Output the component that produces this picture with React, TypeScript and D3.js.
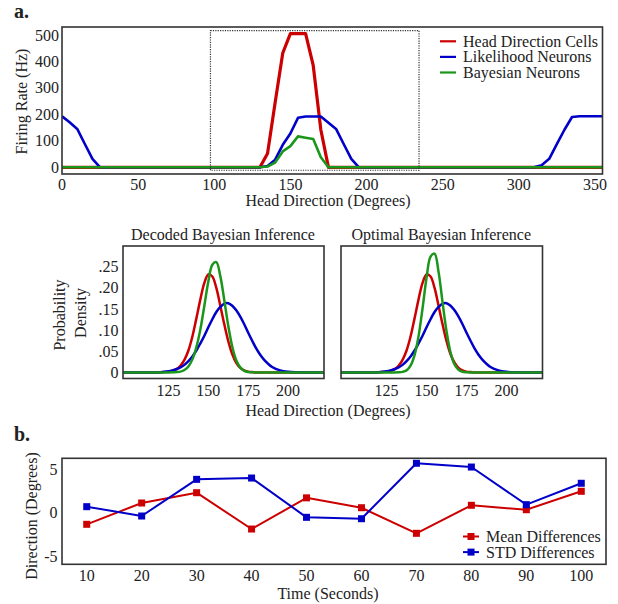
import React from "react";
import * as d3 from "d3";

// ---------- Panel a (top): firing rates vs head direction ----------
const topXTicks = [0, 50, 100, 150, 200, 250, 300, 350];
const topYTicks = [0, 100, 200, 300, 400, 500];

const hdCellsRate: [number, number][] = [
  [0, 0], [130, 0], [135, 52], [140, 245], [145, 432], [150, 505], [155, 505],
  [160, 505], [165, 385], [170, 142], [175, 0], [355, 0],
];
const likelihoodRate: [number, number][] = [
  [0, 193], [5, 170], [10, 145], [15, 88], [20, 32], [25, 0], [130, 0], [135, 5],
  [140, 29], [145, 85], [150, 128], [155, 187], [160, 192], [165, 192], [170, 192],
  [175, 168], [180, 145], [185, 88], [190, 32], [195, 0], [310, 0], [315, 8],
  [320, 32], [325, 88], [330, 142], [335, 190], [340, 193], [345, 193], [350, 193], [355, 193],
];
const bayesianRate: [number, number][] = [
  [0, 0], [130, 0], [135, 3], [140, 18], [145, 60], [150, 80], [155, 117],
  [160, 112], [165, 107], [170, 38], [175, 0], [355, 0],
];
const topLegend = ["Head Direction Cells", "Likelihood Neurons", "Bayesian Neurons"];

// ---------- Panel a (middle): probability densities ----------
const densityAngles = [
  95, 100, 105, 110, 115, 120, 122.5, 125, 127.5, 130, 132.5, 135, 137.5, 140, 142.5,
  145, 147.5, 150, 152.5, 155, 157.5, 160, 162.5, 165, 167.5, 170, 172.5, 175, 177.5,
  180, 182.5, 185, 190, 195, 200, 205, 210, 215, 220, 225,
];
const hdDensity = [
  0, 0, 0, 0, 0, 0.0005, 0.001, 0.002, 0.004, 0.008, 0.016, 0.03, 0.052, 0.085, 0.128,
  0.173, 0.212, 0.232, 0.227, 0.2, 0.158, 0.114, 0.074, 0.043, 0.023, 0.011, 0.005, 0.002, 0.001,
  0, 0, 0, 0, 0, 0, 0, 0, 0, 0, 0,
];
const likelihoodDensity = [
  0, 0, 0, 0, 0.0002, 0.0008, 0.0015, 0.0027, 0.0047, 0.0076, 0.012, 0.018, 0.027, 0.038, 0.052,
  0.069, 0.087, 0.107, 0.126, 0.143, 0.155, 0.163, 0.164, 0.158, 0.147, 0.132, 0.114, 0.094, 0.075,
  0.057, 0.042, 0.03, 0.013, 0.005, 0.0017, 0.0005, 0.0001, 0, 0, 0,
];
const decodedPosterior = [
  0, 0, 0, 0, 0, 0, 0, 0, 0.0003, 0.001, 0.002, 0.006, 0.014, 0.031, 0.06,
  0.102, 0.158, 0.215, 0.255, 0.261, 0.228, 0.171, 0.11, 0.061, 0.029, 0.012, 0.004, 0.0012, 0.0003,
  0, 0, 0, 0, 0, 0, 0, 0, 0, 0, 0,
];
const optimalPosterior = [
  0, 0, 0, 0, 0, 0, 0, 0, 0, 0, 0.0004, 0.0015, 0.005, 0.016, 0.041,
  0.086, 0.152, 0.224, 0.274, 0.281, 0.238, 0.166, 0.097, 0.047, 0.019, 0.0064, 0.0018, 0.0004, 0,
  0, 0, 0, 0, 0, 0, 0, 0, 0, 0, 0,
];
const densityXTicks = [125, 150, 175, 200];
const densityYTicks = [0, 0.05, 0.1, 0.15, 0.2, 0.25];
const densityYLabels = ["0", ".05", ".10", ".15", ".20", ".25"];

// ---------- Panel b: differences over time ----------
const timeSeconds = [10, 20, 30, 40, 50, 60, 70, 80, 90, 100];
const meanDifferences = [-1.33, 1.11, 2.29, -1.87, 1.7, 0.57, -2.36, 0.85, 0.34, 2.45];
const stdDifferences = [0.69, -0.38, 3.82, 3.97, -0.53, -0.69, 5.66, 5.23, 0.92, 3.37];
const bYTicks = [-5, 0, 5];
const bLegend = ["Mean Differences", "STD Differences"];

// ---------- styling ----------
const RED = "#cc0000";
const BLUE = "#0000c8";
const GREEN = "#1a961a";
const FRAME = "#333";
const TEXT = "#222";
const FONT = "'Liberation Serif', 'Times New Roman', serif";

export default function App() {
  // Top panel scales
  const tx = d3.scaleLinear().domain([0, 355]).range([62, 602.5]);
  const ty = d3.scaleLinear().domain([-25.25, 530.25]).range([174, 27]);
  const topLine = d3
    .line<[number, number]>()
    .x((d) => tx(d[0]))
    .y((d) => ty(d[1]));

  // Middle panels
  const panels = [
    { left: 123, right: 324, title: "Decoded Bayesian Inference", post: decodedPosterior, yLabels: true, id: "clipL" },
    { left: 341, right: 542.5, title: "Optimal Bayesian Inference", post: optimalPosterior, yLabels: false, id: "clipR" },
  ];
  const mTop = 246;
  const mBottom = 378.5;
  const my = d3.scaleLinear().domain([-0.01425, 0.29925]).range([mBottom, mTop]);

  // Bottom panel
  const bx = d3.scaleLinear().domain([5.5, 104.5]).range([62, 606]);
  const by = d3.scaleLinear().domain([-5.91, 6.23]).range([564.3, 458.3]);
  const bLine = d3
    .line<number>()
    .x((_, i) => bx(timeSeconds[i]))
    .y((d) => by(d));

  // Dotted region marking the zoomed range
  const zoomBox = { x0: 97.5, x1: 234.5, y0: -11, y1: 516.5 };

  return (
    <svg
      width={618}
      height={604}
      style={{ position: "absolute", left: 0, top: 0, background: "#fff" }}
      fontFamily={FONT}
      fill={TEXT}
    >
      <defs>
        <clipPath id="clipTop">
          <rect x={62} y={27} width={540.5} height={147} />
        </clipPath>
        {panels.map((p) => (
          <clipPath id={p.id} key={p.id}>
            <rect x={p.left} y={mTop} width={p.right - p.left} height={mBottom - mTop} />
          </clipPath>
        ))}
      </defs>

      {/* ---------------- a. ---------------- */}
      <text x={14} y={17.5} fontSize={20} fontWeight="bold">a.</text>

      <g clipPath="url(#clipTop)" fill="none" strokeLinejoin="round">
        <path d={topLine(hdCellsRate) || ""} stroke={RED} strokeWidth={3.2} />
        <path d={topLine(likelihoodRate) || ""} stroke={BLUE} strokeWidth={2.6} />
        <path d={topLine(bayesianRate) || ""} stroke={GREEN} strokeWidth={2.6} />
      </g>
      <rect
        x={tx(zoomBox.x0)}
        y={ty(zoomBox.y1)}
        width={tx(zoomBox.x1) - tx(zoomBox.x0)}
        height={ty(zoomBox.y0) - ty(zoomBox.y1)}
        fill="none"
        stroke="#333"
        strokeWidth={1.2}
        strokeDasharray="1.2,1.2"
      />
      <rect x={62} y={27} width={540.5} height={147} fill="none" stroke={FRAME} strokeWidth={1.6} />
      {topYTicks.map((t) => (
        <text key={t} x={59} y={ty(t) + 5.5} fontSize={16} textAnchor="end">{t}</text>
      ))}
      {topXTicks.map((t) => (
        <text key={t} x={tx(t)} y={190} fontSize={16} textAnchor="middle">{t}</text>
      ))}
      <text x={328} y={205.5} fontSize={16} textAnchor="middle">Head Direction (Degrees)</text>
      <text transform="translate(27,101.5) rotate(-90)" fontSize={16} textAnchor="middle">Firing Rate (Hz)</text>
      {topLegend.map((name, i) => {
        const y = 41.3 + i * 15.6;
        const c = [RED, BLUE, GREEN][i];
        return (
          <g key={name}>
            <line x1={440} x2={456} y1={y} y2={y} stroke={c} strokeWidth={2.2} />
            <text x={463} y={y + 5.5} fontSize={16}>{name}</text>
          </g>
        );
      })}

      {/* ---------------- middle panels ---------------- */}
      {panels.map((p) => {
        const mx = d3.scaleLinear().domain([96.5, 222.5]).range([p.left, p.right]);
        const dLine = d3
          .line<number>()
          .x((_, i) => mx(densityAngles[i]))
          .y((d) => my(d))
          .curve(d3.curveCatmullRom.alpha(0.5));
        return (
          <g key={p.id}>
            <g clipPath={`url(#${p.id})`} fill="none" strokeLinejoin="round">
              <path d={dLine(hdDensity) || ""} stroke={RED} strokeWidth={2.5} />
              <path d={dLine(likelihoodDensity) || ""} stroke={BLUE} strokeWidth={2.5} />
              <path d={dLine(p.post) || ""} stroke={GREEN} strokeWidth={2.5} />
            </g>
            <rect x={p.left} y={mTop} width={p.right - p.left} height={mBottom - mTop} fill="none" stroke={FRAME} strokeWidth={1.6} />
            <text x={(p.left + p.right) / 2 - 0.5} y={240} fontSize={16} textAnchor="middle">{p.title}</text>
            {densityXTicks.map((t) => (
              <text key={t} x={mx(t)} y={395.5} fontSize={16} textAnchor="middle">{t}</text>
            ))}
            {p.yLabels &&
              densityYTicks.map((t, i) => (
                <text key={t} x={118.5} y={my(t) + 5.5} fontSize={16} textAnchor="end">{densityYLabels[i]}</text>
              ))}
          </g>
        );
      })}
      <text transform="translate(65,315) rotate(-90)" fontSize={16} textAnchor="middle">Probability</text>
      <text transform="translate(86,313) rotate(-90)" fontSize={16} textAnchor="middle">Density</text>
      <text x={328} y={415.5} fontSize={16} textAnchor="middle">Head Direction (Degrees)</text>

      {/* ---------------- b. ---------------- */}
      <text x={14} y={440.7} fontSize={20} fontWeight="bold">b.</text>
      <g fill="none" strokeLinejoin="round">
        <path d={bLine(meanDifferences) || ""} stroke={RED} strokeWidth={2} />
        {meanDifferences.map((v, i) => (
          <rect key={"m" + i} x={bx(timeSeconds[i]) - 3.5} y={by(v) - 3.5} width={7} height={7} fill={RED} stroke="none" />
        ))}
        <path d={bLine(stdDifferences) || ""} stroke={BLUE} strokeWidth={2} />
        {stdDifferences.map((v, i) => (
          <rect key={"s" + i} x={bx(timeSeconds[i]) - 3.5} y={by(v) - 3.5} width={7} height={7} fill={BLUE} stroke="none" />
        ))}
      </g>
      <rect x={62} y={458.3} width={544} height={106} fill="none" stroke={FRAME} strokeWidth={1.6} />
      {bYTicks.map((t) => (
        <text key={t} x={57.5} y={by(t) + 5.5} fontSize={16} textAnchor="end">{t}</text>
      ))}
      {timeSeconds.map((t) => (
        <text key={t} x={bx(t)} y={580.5} fontSize={16} textAnchor="middle">{t}</text>
      ))}
      <text x={328} y={599} fontSize={16} textAnchor="middle">Time (Seconds)</text>
      <text transform="translate(36.7,516) rotate(-90)" fontSize={16} textAnchor="middle">Direction (Degrees)</text>
      {bLegend.map((name, i) => {
        const y = 536.5 + i * 15.6;
        const c = [RED, BLUE][i];
        return (
          <g key={name}>
            <line x1={463} x2={479} y1={y} y2={y} stroke={c} strokeWidth={2} />
            <rect x={467.5} y={y - 3.5} width={7} height={7} fill={c} />
            <text x={486} y={y + 5.5} fontSize={16}>{name}</text>
          </g>
        );
      })}
    </svg>
  );
}
